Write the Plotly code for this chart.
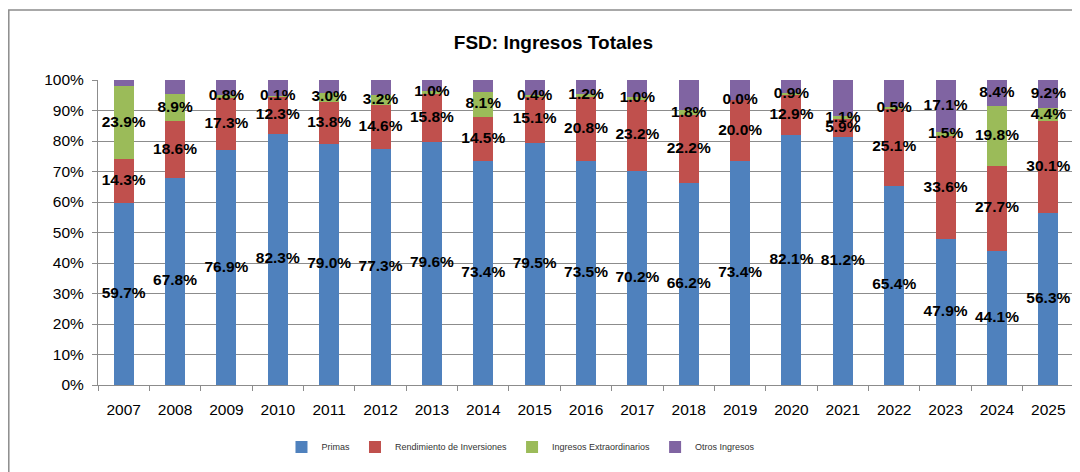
import plotly.graph_objects as go

years = [str(y) for y in range(2007, 2026)]
primas = [59.7, 67.8, 76.9, 82.3, 79.0, 77.3, 79.6, 73.4, 79.5, 73.5, 70.2, 66.2, 73.4, 82.1, 81.2, 65.4, 47.9, 44.1, 56.3]
rendimiento = [14.3, 18.6, 17.3, 12.3, 13.8, 14.6, 15.8, 14.5, 15.1, 20.8, 23.2, 22.2, 20.0, 12.9, 5.9, 25.1, 33.6, 27.7, 30.1]
extraordinarios = [23.9, 8.9, 0.8, 0.1, 3.0, 3.2, 1.0, 8.1, 0.4, 1.2, 1.0, 1.8, 0.0, 0.9, 1.1, 0.5, 1.5, 19.8, 4.4]
otros = [2.1, 4.7, 5.0, 5.3, 4.2, 4.9, 3.6, 4.0, 5.0, 4.5, 5.6, 9.8, 6.6, 4.1, 11.8, 9.0, 17.1, 8.4, 9.2]
otros_label_years = ["2023", "2024", "2025"]

series = [
    ("Primas", primas, "#4F81BD"),
    ("Rendimiento de Inversiones", rendimiento, "#C0504D"),
    ("Ingresos Extraordinarios", extraordinarios, "#9BBB59"),
    ("Otros Ingresos", otros, "#8064A2"),
]

fig = go.Figure()
base = [0.0] * len(years)
label_x, label_y, label_t = [], [], []
for name, vals, color in series:
    fig.add_trace(go.Bar(
        x=years, y=vals, name=name, marker=dict(color=color, line=dict(width=0)),
        hoverinfo="skip",
    ))
    for i, (yr, v) in enumerate(zip(years, vals)):
        center = base[i] + v / 2
        if name != "Otros Ingresos" or yr in otros_label_years:
            label_x.append(yr)
            label_y.append(center)
            label_t.append(f"{v:.1f}%")
        base[i] += v

fig.add_trace(go.Scatter(
    x=label_x, y=label_y, text=label_t, mode="text",
    textfont=dict(family="Liberation Sans", size=15.5, color="#000000", weight="bold"),
    textposition="middle center", showlegend=False, hoverinfo="skip", cliponaxis=False,
))

# page body has an 8px margin; plot area should land at x 98..1074, y 80..385 on screen
L, T, W_PLOT, H_PLOT = 90, 72, 976, 305
grid = "#8C8C8C"
fig.update_layout(
    width=1080, height=472,
    barmode="stack", bargap=0.61,
    plot_bgcolor="white", paper_bgcolor="white",
    margin=dict(l=L, r=1080 - L - W_PLOT, t=T, b=472 - T - H_PLOT, autoexpand=False),
    font=dict(family="Liberation Sans", color="#000000"),
    title=dict(text="<b>FSD: Ingresos Totales</b>", x=0.505, xanchor="center",
               y=1 - 34 / 472, yanchor="middle",
               font=dict(family="Liberation Sans", size=19, color="#000000")),
    xaxis=dict(type="category", range=[-0.5, len(years) - 0.5], tickson="boundaries",
               ticks="outside", ticklen=5,
               tickcolor=grid, showline=True, linecolor=grid, linewidth=1,
               showgrid=False, tickfont=dict(size=15.5, color="#000000"),
               ticklabelstandoff=10),
    yaxis=dict(range=[0, 100], dtick=10, ticksuffix="%", ticks="outside", ticklen=5,
               tickcolor=grid, showline=True, linecolor=grid, linewidth=1,
               showgrid=True, gridcolor=grid, gridwidth=1, zeroline=False,
               tickfont=dict(size=15.5, color="#000000"), ticklabelstandoff=5),
    legend=dict(orientation="h", x=0.188, xanchor="left", y=-0.203, yanchor="middle",
                font=dict(size=9, color="#333333"), itemwidth=30,
                traceorder="normal"),
    shapes=[dict(type="rect", xref="paper", yref="paper",
                 x0=(0.8 - L) / W_PLOT, x1=1.2, y0=-1.0,
                 y1=(T + H_PLOT - 2) / H_PLOT,
                 line=dict(color="#8C8C8C", width=1.5), layer="below")],
)

fig.write_html("out.html")
